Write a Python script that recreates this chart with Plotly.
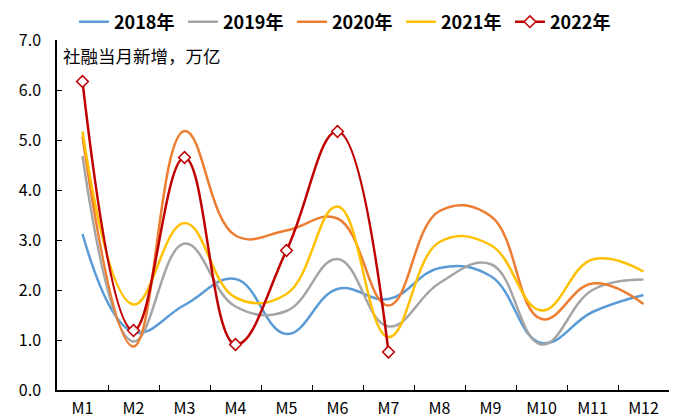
import plotly.graph_objects as go

months = ["M1", "M2", "M3", "M4", "M5", "M6", "M7", "M8", "M9", "M10", "M11", "M12"]

# Monthly new social financing, trillion yuan
y2018 = [3.12, 1.16, 1.70, 2.22, 1.12, 2.02, 1.82, 2.44, 2.28, 0.94, 1.56, 1.90]
y2019 = [4.68, 0.97, 2.93, 1.67, 1.58, 2.62, 1.27, 2.14, 2.52, 0.91, 2.00, 2.21]
y2020 = [5.07, 0.87, 5.18, 3.09, 3.19, 3.43, 1.69, 3.58, 3.48, 1.42, 2.13, 1.72]
y2021 = [5.17, 1.71, 3.34, 1.85, 1.92, 3.67, 1.06, 2.96, 2.90, 1.59, 2.61, 2.37]
y2022 = [6.17, 1.19, 4.65, 0.91, 2.79, 5.17, 0.76]

series = [
    ("2018年", y2018, "#5B9BD5"),
    ("2019年", y2019, "#A5A5A5"),
    ("2020年", y2020, "#ED7D31"),
    ("2021年", y2021, "#FFC000"),
]

FONT = "Noto Sans CJK SC"
SMOOTH = 1.2

fig = go.Figure()
for name, vals, color in series:
    fig.add_trace(go.Scatter(
        x=months[:len(vals)], y=vals, name=name, mode="lines",
        line=dict(color=color, width=2.5, shape="spline", smoothing=SMOOTH),
    ))

fig.add_trace(go.Scatter(
    x=months[:len(y2022)], y=y2022, name="2022年", mode="lines+markers",
    line=dict(color="#C00000", width=2.5, shape="spline", smoothing=SMOOTH),
    marker=dict(symbol="diamond", size=9, color="white",
                line=dict(color="#C00000", width=1.5)),
))

fig.update_layout(
    width=678, height=419,
    margin=dict(l=57, r=9, t=40, b=29, autoexpand=False),
    paper_bgcolor="white", plot_bgcolor="white",
    font=dict(family=FONT, size=16, color="#000000"),
    showlegend=True,
    legend=dict(
        orientation="h", xref="container", yref="container",
        x=0.511, xanchor="center", y=0.9475, yanchor="middle",
        font=dict(family=FONT, size=18, color="#000000", weight="bold"),
        itemwidth=30, tracegroupgap=0, bgcolor="rgba(0,0,0,0)",
        entrywidth=64, entrywidthmode="pixels",
    ),
    xaxis=dict(
        type="category", categoryorder="array", categoryarray=months,
        range=[-0.5, 11.5], tickson="boundaries",
        ticks="inside", ticklen=5, tickcolor="#000000", tickwidth=1,
        showline=True, linecolor="#000000", linewidth=1.5,
        showgrid=False, zeroline=False, automargin=False,
        tickfont=dict(family=FONT, size=16, color="#000000"),
        ticklabelstandoff=3,
    ),
    yaxis=dict(
        range=[0, 7], dtick=1, tick0=0, tickformat=".1f",
        ticks="inside", ticklen=5, tickcolor="#000000", tickwidth=1,
        showline=True, linecolor="#000000", linewidth=1.5,
        showgrid=False, zeroline=False, automargin=False,
        tickfont=dict(family=FONT, size=16, color="#000000"),
        ticklabelstandoff=11,
    ),
    annotations=[dict(
        text="社融当月新增，万亿", xref="paper", yref="paper",
        x=0.007, y=0.957, xanchor="left", yanchor="middle", showarrow=False,
        font=dict(family=FONT, size=17.5, color="#000000"),
    )],
)

fig.write_html("out.html")
